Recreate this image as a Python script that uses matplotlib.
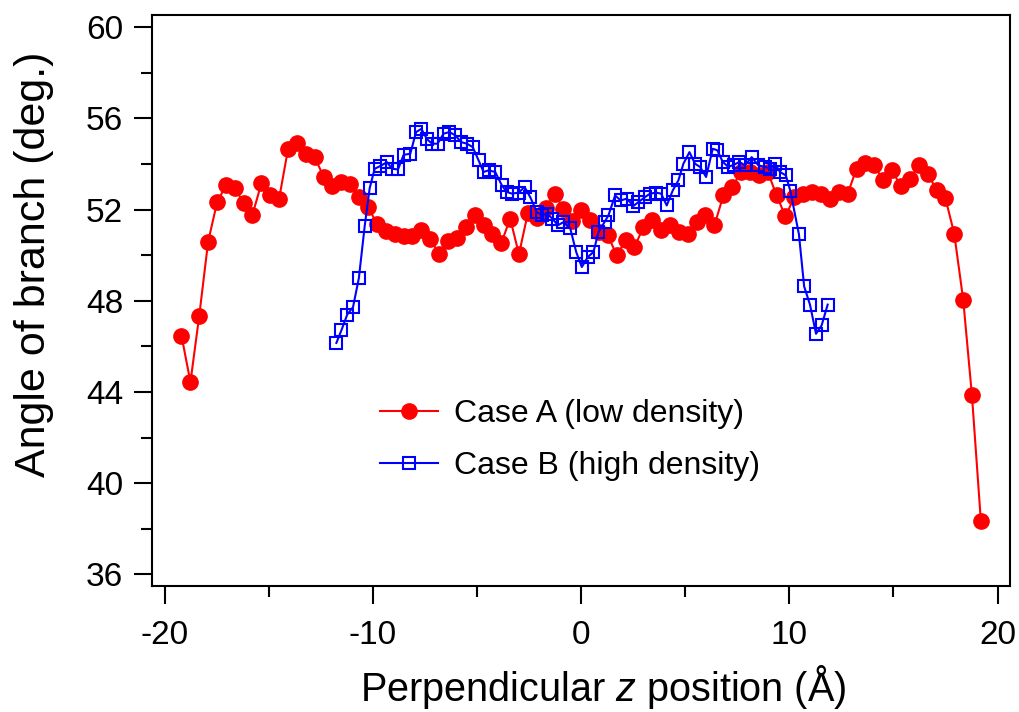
import matplotlib
matplotlib.use("Agg")
import matplotlib.pyplot as plt
from matplotlib.ticker import MultipleLocator

plt.rcParams["font.family"] = ["Liberation Sans", "DejaVu Sans"]
plt.rcParams["mathtext.fontset"] = "custom"
plt.rcParams["mathtext.rm"] = "Liberation Sans"
plt.rcParams["mathtext.it"] = "Liberation Sans:italic"
plt.rcParams["axes.unicode_minus"] = False

# Case A (low density): z position (Å) and branch angle (deg.)
z_a = [-19.20, -18.77, -18.35, -17.92, -17.49, -17.07, -16.64, -16.21, -15.79, -15.36,
       -14.93, -14.51, -14.08, -13.65, -13.23, -12.80, -12.37, -11.95, -11.52, -11.09,
       -10.67, -10.24, -9.81, -9.39, -8.96, -8.53, -8.11, -7.68, -7.25, -6.83,
       -6.40, -5.97, -5.55, -5.12, -4.69, -4.27, -3.84, -3.41, -2.99, -2.56,
       -2.13, -1.71, -1.28, -0.85, -0.43, 0.00, 0.43, 0.85, 1.28, 1.71,
       2.13, 2.56, 2.99, 3.41, 3.84, 4.27, 4.69, 5.12, 5.55, 5.97,
       6.40, 6.83, 7.25, 7.68, 8.11, 8.53, 8.96, 9.39, 9.81, 10.24,
       10.67, 11.09, 11.52, 11.95, 12.37, 12.80, 13.23, 13.65, 14.08, 14.51,
       14.93, 15.36, 15.79, 16.21, 16.64, 17.07, 17.49, 17.92, 18.35, 18.77,
       19.20]
angle_a = [46.47, 44.43, 47.32, 50.59, 52.32, 53.06, 52.96, 52.27, 51.77, 53.16,
           52.62, 52.48, 54.66, 54.92, 54.45, 54.30, 53.43, 53.02, 53.21, 53.14,
           52.55, 52.11, 51.38, 51.06, 50.91, 50.82, 50.82, 51.09, 50.72, 50.04,
           50.62, 50.77, 51.23, 51.75, 51.31, 50.94, 50.53, 51.60, 50.04, 51.85,
           51.63, 52.08, 52.70, 52.04, 51.50, 51.96, 51.53, 51.00, 50.87, 49.99,
           50.65, 50.36, 51.23, 51.53, 51.12, 51.31, 51.01, 50.94, 51.45, 51.75,
           51.31, 52.62, 52.99, 53.65, 53.65, 53.50, 53.65, 52.62, 51.70, 52.55,
           52.70, 52.77, 52.67, 52.45, 52.77, 52.70, 53.79, 54.04, 53.94, 53.28,
           53.72, 53.02, 53.35, 53.96, 53.57, 52.87, 52.52, 50.94, 48.05, 43.85,
           38.32]

# Case B (high density)
z_b = [-11.76, -11.52, -11.24, -10.96, -10.68, -10.40, -10.16, -9.92, -9.65, -9.33,
       -9.08, -8.80, -8.53, -8.21, -7.93, -7.68, -7.40, -7.16, -6.90, -6.61,
       -6.33, -6.05, -5.77, -5.49, -5.21, -4.93, -4.69, -4.45, -4.13, -3.81,
       -3.57, -3.33, -3.01, -2.72, -2.45, -2.13, -1.89, -1.65, -1.38, -1.12,
       -0.85, -0.53, -0.24, 0.03, 0.32, 0.59, 0.83, 1.12, 1.31, 1.63,
       1.90, 2.19, 2.51, 2.75, 3.07, 3.31, 3.60, 3.84, 4.11, 4.40,
       4.67, 4.91, 5.20, 5.47, 5.71, 6.00, 6.32, 6.54, 6.80, 7.07,
       7.35, 7.60, 7.87, 8.19, 8.51, 8.83, 9.07, 9.31, 9.55, 9.83,
       10.05, 10.46, 10.71, 10.99, 11.28, 11.55, 11.84]
angle_b = [46.15, 46.70, 47.39, 47.72, 48.99, 51.27, 52.94, 53.79, 53.91, 54.08,
           53.79, 53.76, 54.40, 54.45, 55.40, 55.54, 55.08, 54.89, 54.89, 55.33,
           55.40, 55.26, 54.96, 54.89, 54.74, 54.16, 53.65, 53.72, 53.65, 53.06,
           52.77, 52.70, 52.74, 52.99, 52.55, 51.89, 51.75, 51.82, 51.60, 51.31,
           51.45, 51.19, 50.14, 49.48, 49.92, 50.14, 51.01, 51.45, 51.75, 52.62,
           52.40, 52.48, 52.16, 52.33, 52.55, 52.70, 52.74, 52.70, 52.18, 52.84,
           53.28, 54.01, 54.52, 54.01, 53.87, 53.43, 54.67, 54.60, 54.09, 53.87,
           53.97, 54.09, 53.94, 54.30, 53.94, 53.87, 53.80, 54.01, 53.65, 53.50,
           52.81, 50.91, 48.63, 47.83, 46.55, 46.92, 47.83]

fig = plt.figure(figsize=(10.19, 7.12), dpi=100)
ax = fig.add_axes([0.1495, 0.1774, 0.8417, 0.802])

ax.plot(z_a, angle_a, "-o", color="#ff0000", lw=1.5, ms=11,
        label="Case A (low density)")
ax.plot(z_b, angle_b, "-s", color="#0000ff", lw=1.5, ms=9, mfc="none", mew=1.5,
        label="Case B (high density)")

ax.set_xlim(-20.6, 20.6)
ax.set_ylim(35.5, 60.55)
ax.xaxis.set_major_locator(MultipleLocator(10))
ax.xaxis.set_minor_locator(MultipleLocator(5))
ax.yaxis.set_major_locator(MultipleLocator(4))
ax.yaxis.set_minor_locator(MultipleLocator(2))
ax.tick_params(which="major", direction="out", length=13, width=1.5,
               labelsize=24, pad=8, top=False, right=False)
ax.tick_params(axis="x", which="major", pad=12)
ax.tick_params(which="minor", direction="out", length=8, width=1.5,
               top=False, right=False)
for s in ax.spines.values():
    s.set_linewidth(1.5)

ax.set_xlabel("Perpendicular $z$ position (Å)", fontsize=28.5)
ax.set_ylabel("Angle of branch (deg.)", fontsize=31)
ax.xaxis.set_label_coords(0.5255, -0.135)
ax.yaxis.set_label_coords(-0.1146, 0.5634)

ax.legend(loc="center left", bbox_to_anchor=(0.2655, 0.255), frameon=False,
          fontsize=23, handlelength=1.8, handletextpad=0.5, labelspacing=0.7,
          borderpad=0, borderaxespad=0, numpoints=1)

fig.savefig("out.png", dpi=100)
